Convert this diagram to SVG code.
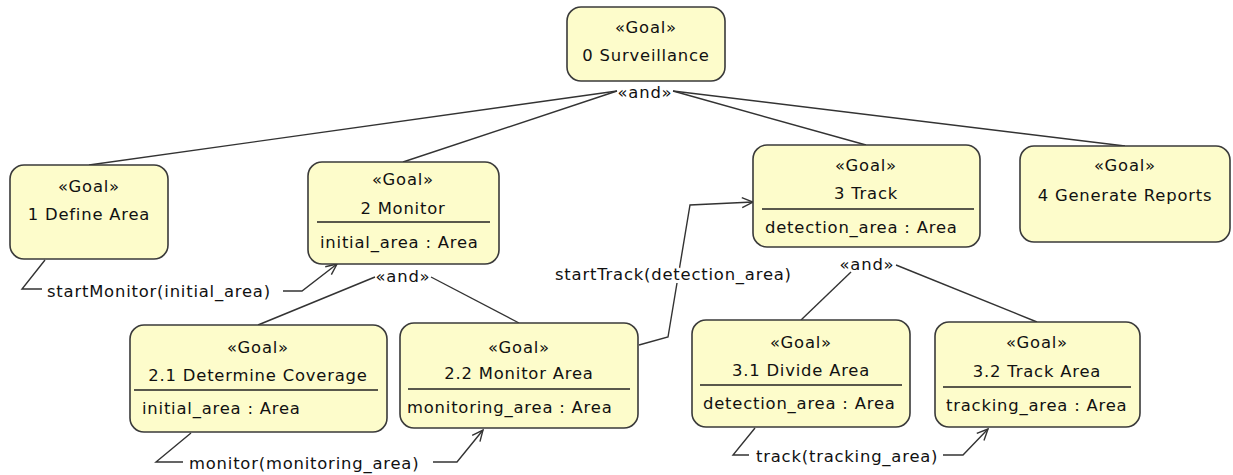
<svg xmlns="http://www.w3.org/2000/svg" width="1233" height="475" viewBox="0 0 1233 475">
<style>
  .box{fill:#FDFCCB;stroke:#3a3a3a;stroke-width:1.6}
  .sep{stroke:#222;stroke-width:1.4}
  text{font-family:"DejaVu Sans","Verdana",sans-serif;font-size:16.4px;fill:#111;letter-spacing:0.8px}
  .c{text-anchor:middle}
  .ln{fill:none;stroke:#333;stroke-width:1.4}
  .lbl{stroke:#fff;stroke-width:6px;paint-order:stroke;stroke-linejoin:round}
</style>
<defs>
  <marker id="arr" markerUnits="userSpaceOnUse" markerWidth="14" markerHeight="12" refX="12" refY="6" orient="auto">
    <path d="M1,1 L12,6 L1,11" fill="none" stroke="#333" stroke-width="1.4"/>
  </marker>
</defs>
<rect width="1233" height="475" fill="#fff"/>

<g id="connectors">
  <!-- root and-decomposition -->
  <line class="ln" x1="617" y1="91" x2="89" y2="165"/>
  <line class="ln" x1="617" y1="91" x2="403" y2="162"/>
  <line class="ln" x1="673" y1="91" x2="866" y2="145"/>
  <line class="ln" x1="673" y1="91" x2="1125" y2="146"/>
  <text class="c" x="645" y="98">«and»</text>
  <!-- monitor and-decomposition -->
  <line class="ln" x1="375" y1="277" x2="258" y2="325"/>
  <line class="ln" x1="431" y1="277" x2="519" y2="323"/>
  <text class="c" x="403" y="282">«and»</text>
  <!-- track and-decomposition -->
  <line class="ln" x1="851" y1="272" x2="801" y2="320"/>
  <line class="ln" x1="896" y1="265" x2="1037" y2="322"/>
  <text class="c" x="867" y="270">«and»</text>
  <!-- startMonitor -->
  <polyline class="ln" points="45,260 22,289 42,289"/>
  <polyline class="ln" points="283,291 302,291 337,264" marker-end="url(#arr)"/>
  <text x="47" y="297">startMonitor(initial_area)</text>
  <!-- startTrack -->
  <polyline class="ln" points="639,345 668,337 690,205 753,202" marker-end="url(#arr)"/>
  <text class="lbl" x="555" y="280">startTrack(detection_area)</text>
  <!-- monitor -->
  <polyline class="ln" points="191,433 156,462 183,462"/>
  <polyline class="ln" points="433,462 457,462 483,430" marker-end="url(#arr)"/>
  <text x="189" y="469">monitor(monitoring_area)</text>
  <!-- track -->
  <polyline class="ln" points="755,428 733,455 749,455"/>
  <polyline class="ln" points="943,455 963,455 988,429" marker-end="url(#arr)"/>
  <text x="756" y="462">track(tracking_area)</text>
</g>

<g id="g0">
  <rect class="box" x="567" y="7" width="158" height="74" rx="14"/>
  <text class="c" x="646" y="33">«Goal»</text>
  <text class="c" x="646" y="61">0 Surveillance</text>
</g>
<g id="g1">
  <rect class="box" x="10" y="165" width="158" height="94" rx="14"/>
  <text class="c" x="89" y="192">«Goal»</text>
  <text class="c" x="89" y="220">1 Define Area</text>
</g>
<g id="g2">
  <rect class="box" x="308" y="162" width="191" height="102" rx="14"/>
  <text class="c" x="403" y="185">«Goal»</text>
  <text class="c" x="403" y="214">2 Monitor</text>
  <line class="sep" x1="317" y1="222" x2="490" y2="222"/>
  <text x="320" y="248">initial_area : Area</text>
</g>
<g id="g3">
  <rect class="box" x="753" y="145" width="227" height="102" rx="14"/>
  <text class="c" x="866" y="171">«Goal»</text>
  <text class="c" x="866" y="199">3 Track</text>
  <line class="sep" x1="762" y1="209" x2="974" y2="209"/>
  <text x="765" y="233">detection_area : Area</text>
</g>
<g id="g4">
  <rect class="box" x="1020" y="146" width="210" height="96" rx="14"/>
  <text class="c" x="1125" y="171">«Goal»</text>
  <text class="c" x="1125" y="201">4 Generate Reports</text>
</g>
<g id="g21">
  <rect class="box" x="130" y="325" width="257" height="107" rx="14"/>
  <text class="c" x="258" y="353">«Goal»</text>
  <text class="c" x="258" y="381">2.1 Determine Coverage</text>
  <line class="sep" x1="134" y1="390" x2="378" y2="390"/>
  <text x="142" y="414">initial_area : Area</text>
</g>
<g id="g22">
  <rect class="box" x="400" y="323" width="238" height="105" rx="14"/>
  <text class="c" x="519" y="353">«Goal»</text>
  <text class="c" x="519" y="379">2.2 Monitor Area</text>
  <line class="sep" x1="408" y1="389" x2="630" y2="389"/>
  <text x="407" y="413">monitoring_area : Area</text>
</g>
<g id="g31">
  <rect class="box" x="692" y="320" width="218" height="107" rx="14"/>
  <text class="c" x="801" y="348">«Goal»</text>
  <text class="c" x="801" y="376">3.1 Divide Area</text>
  <line class="sep" x1="700" y1="385" x2="902" y2="385"/>
  <text x="703" y="409">detection_area : Area</text>
</g>
<g id="g32">
  <rect class="box" x="935" y="322" width="205" height="105" rx="14"/>
  <text class="c" x="1037" y="348">«Goal»</text>
  <text class="c" x="1037" y="377">3.2 Track Area</text>
  <line class="sep" x1="943" y1="387" x2="1131" y2="387"/>
  <text x="946" y="411">tracking_area : Area</text>
</g>
</svg>
